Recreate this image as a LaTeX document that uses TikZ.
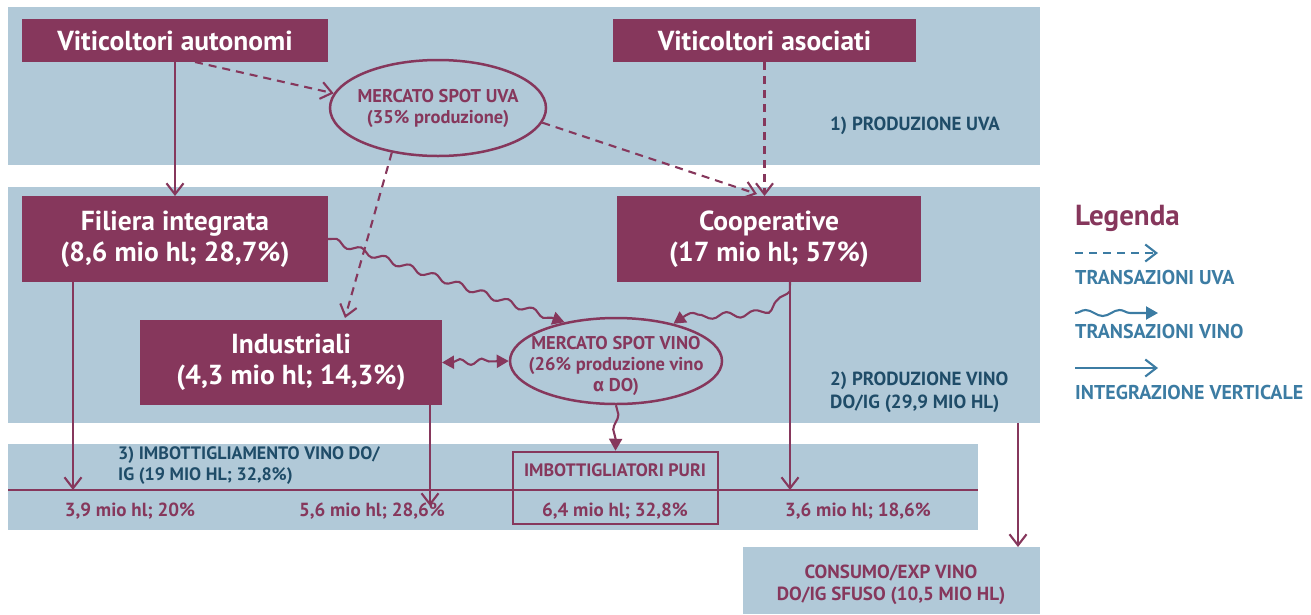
\documentclass[tikz,border=0pt]{standalone}
\usepackage{fontspec}
\setmainfont{PT Sans}
\newfontfamily\grk{Fira Sans}
\usetikzlibrary{arrows.meta,decorations.pathmorphing,shapes.geometric,calc}
\definecolor{wine}{HTML}{86375C}
\definecolor{panel}{HTML}{B1C9D8}
\definecolor{secblue}{HTML}{1F4C68}
\definecolor{legblue}{HTML}{3C7CA3}
\begin{document}
\begin{tikzpicture}[x=1pt,y=-1pt,
  panelbox/.style={fill=panel, inner sep=0pt, outer sep=0pt, anchor=north west},
  mainbox/.style={fill=wine, text=white, font=\fontsize{27.5}{31}\selectfont\bfseries, align=center, inner sep=0pt, outer sep=0pt},
  market/.style={ellipse, draw=wine, line width=2.5pt, inner sep=0pt},
  markettext/.style={text=wine, font=\fontsize{18.5}{21}\selectfont\bfseries, align=center, inner sep=0pt},
  seclabel/.style={text=secblue, font=\fontsize{19}{23}\selectfont\bfseries, align=left, anchor=west, inner sep=0pt},
  vollabel/.style={text=wine, font=\fontsize{19}{22}\selectfont\bfseries, inner sep=0pt},
  leglabel/.style={text=legblue, font=\fontsize{20}{22}\selectfont\bfseries, anchor=west, inner sep=0pt},
  conn/.style={draw=wine, line width=2.1pt},
  barb/.tip={Straight Barb[length=11pt,width=17pt,line width=2.1pt]},
  tri/.tip={Triangle[length=12pt,width=13pt]},
  vertarrow/.style={conn, -barb},
  grapearrow/.style={conn, dash pattern=on 8pt off 6pt, -barb},
  winearrow/.style={conn, -tri, decorate, decoration={snake, amplitude=3pt, segment length=26pt, post length=12pt}},
  winearrow2/.style={conn, tri-tri, decorate, decoration={snake, amplitude=3pt, segment length=26pt, pre length=12pt, post length=12pt}},
]
\useasboundingbox (0,0) rectangle (1311,614);

% panels
\node[panelbox, minimum width=1032pt, minimum height=158pt] (p1) at (8,7) {};
\node[panelbox, minimum width=1032pt, minimum height=236pt] (p2) at (8,187) {};
\node[panelbox, minimum width=970pt, minimum height=86pt] (p3) at (8,444) {};
\node[panelbox, minimum width=297pt, minimum height=67pt] (p4) at (743,547) {};

% section labels
\node[seclabel] (s1) at (830,126) {1) PRODUZIONE UVA};
\node[seclabel] (s2) at (830,392.5) {2) PRODUZIONE VINO\\DO/IG (29,9 MIO HL)};
\node[seclabel, font=\fontsize{18}{21}\selectfont\bfseries] (s3) at (118,466) {3) IMBOTTIGLIAMENTO VINO DO/\\IG (19 MIO HL; 32,8\%)};
\node[vollabel, align=center, font=\fontsize{19}{22}\selectfont\bfseries] (s4) at (891,585) {CONSUMO/EXP VINO\\DO/IG SFUSO (10,5 MIO HL)};

% main boxes
\node[mainbox, minimum width=306pt, minimum height=43pt] (va) at (175,40.5) {Viticoltori autonomi};
\node[mainbox, minimum width=303pt, minimum height=43pt] (vas) at (764.5,40.5) {Viticoltori asociati};
\node[mainbox, minimum width=306pt, minimum height=86pt] (fil) at (175,239) {Filiera integrata\\(8,6 mio hl; 28,7\%)};
\node[mainbox, minimum width=304pt, minimum height=86pt] (coop) at (769,239) {Cooperative\\(17 mio hl; 57\%)};
\node[mainbox, minimum width=302pt, minimum height=85pt] (ind) at (291,362.5) {Industriali\\(4,3 mio hl; 14,3\%)};

% markets
\node[market, minimum width=216pt, minimum height=96pt] (msu) at (438,108) {};
\node[markettext] (msut) at (msu.center) {MERCATO SPOT UVA\\(35\% produzione)};
\node[market, minimum width=212pt, minimum height=86pt] (msv) at (616,361) {};
\node[markettext] (msvt) at ($(msv.center)+(0,5)$) {MERCATO SPOT VINO\\(26\% produzione vino\\{\grk α} DO)};

% bottling band
\coordinate (hl1) at (8,490);
\coordinate (hl2) at (978,490);
\draw[draw=wine, line width=2.5pt] (hl1) -- (hl2);
\node[draw=wine, line width=2.5pt, minimum width=205pt, minimum height=72pt, inner sep=0pt] (imb) at (615.5,488) {};
\node[vollabel, font=\fontsize{18}{20}\selectfont\bfseries] (imbl) at (615,470) {IMBOTTIGLIATORI PURI};
\node[vollabel] (b1) at (130,511) {3,9 mio hl; 20\%};
\node[vollabel] (b2) at (372,511) {5,6 mio hl; 28,6\%};
\node[vollabel] (b3) at (615,511) {6,4 mio hl; 32,8\%};
\node[vollabel] (b4) at (858,511) {3,6 mio hl; 18,6\%};

% connectors: grapes
\draw[vertarrow] (va.south) -- (fil.north);
\draw[grapearrow] ($(va.south)+(20,0)$) -- (msu.172);
\draw[grapearrow] (msu.-8) -- ($(coop.north)+(-12,-2)$);
\draw[grapearrow] (vas.south) -- (vas.south |- coop.north);
\draw[grapearrow] (msu.224) -- ($(ind.north)+(54,-2)$);

% connectors: wine
\draw[winearrow] (fil.east) -- (msv.143);
\draw[winearrow, decoration={snake, amplitude=3pt, segment length=28pt, post length=10pt}] ($(coop.south)+(21,0)$) to[out=-110, in=40] (msv.33);
\draw[winearrow2, decoration={snake, amplitude=3pt, segment length=22pt, pre length=11pt, post length=11pt}] (ind.east) -- (msv.west);
\draw[winearrow, decoration={snake, amplitude=2.5pt, segment length=30pt, post length=10pt}] (msv.south) -- (imb.north);

% connectors: vertical integration
\coordinate (f1) at (73,282);
\coordinate (i1) at (430,405);
\coordinate (i2) at (430,506);
\coordinate (c1) at (790,282);
\coordinate (cons) at (1018,423);
\draw[vertarrow] (f1) -- (f1 |- hl1);
\draw[vertarrow] (i1) -- (i2);
\draw[vertarrow] (c1) -- (c1 |- hl1);
\draw[vertarrow] (cons) -- (cons |- p4.north);

% legend
\node[text=wine, font=\fontsize{29}{32}\selectfont\bfseries, anchor=west, inner sep=0pt] (leg) at (1075,218) {Legenda};
\coordinate (lg1a) at (1075,253); \coordinate (lg1b) at (1158,253);
\coordinate (lg2a) at (1075,313); \coordinate (lg2b) at (1158,313);
\coordinate (lg3a) at (1075,368); \coordinate (lg3b) at (1158,368);
\draw[grapearrow, draw=legblue] (lg1a) -- (lg1b);
\draw[winearrow, draw=legblue, decoration={snake, amplitude=3pt, segment length=34pt, post length=12pt}] (lg2a) -- (lg2b);
\draw[vertarrow, draw=legblue] (lg3a) -- (lg3b);
\node[leglabel] (l1) at (1075,277) {TRANSAZIONI UVA};
\node[leglabel] (l2) at (1075,331) {TRANSAZIONI VINO};
\node[leglabel] (l3) at (1075,392) {INTEGRAZIONE VERTICALE};
\end{tikzpicture}
\end{document}
